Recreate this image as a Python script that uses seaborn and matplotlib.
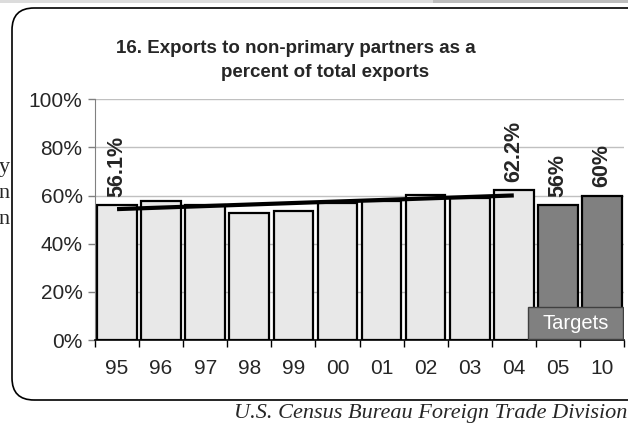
import numpy as np
import pandas as pd
import seaborn as sns
import matplotlib.pyplot as plt
import matplotlib.patches as mpatches

# %% Datos.
anios = ['95', '96', '97', '98', '99', '00', '01', '02', '03', '04', '05', '10']
valores = [56.1, 57.6, 56.0, 52.6, 53.7, 57.0, 57.9, 60.2, 58.9, 62.2, 56.0, 60.0]
tipo = ['hist'] * 10 + ['meta'] * 2
etiquetas = {0: '56.1%', 9: '62.2%', 10: '56%', 11: '60%'}

df = pd.DataFrame({'anio': anios, 'valor': valores, 'tipo': tipo})

sns.set_style('white')
plt.rcParams['font.family'] = ['Liberation Sans', 'DejaVu Sans']

W, H = 628, 425
fig = plt.figure(figsize=(W / 100, H / 100), dpi=100)
ax = fig.add_axes([95 / W, 1 - 340 / H, (624 - 95) / W, (340 - 99.3) / H])

sns.barplot(data=df, x='anio', y='valor', hue='tipo', dodge=False, legend=False,
            palette={'hist': '#e8e8e8', 'meta': '#808080'}, width=0.9,
            edgecolor='black', linewidth=1.6, saturation=1, ax=ax, zorder=2)

# Línea de tendencia sobre los datos históricos.
x_hist = np.arange(10)
coef = np.polyfit(x_hist, valores[:10], 1)
ax.plot(x_hist, np.polyval(coef, x_hist), color='black', lw=3, zorder=3,
        solid_capstyle='butt')

for i, txt in etiquetas.items():
    ax.annotate(txt, (i, valores[i]), xytext=(0, 6), textcoords='offset points',
                rotation=90, ha='center', va='bottom', fontsize=15.5,
                fontweight='bold', zorder=4)

ax.set_ylim(0, 100)
ax.set_xlim(-0.5, 11.5)
ax.set_yticks(range(0, 101, 20))
ax.set_yticklabels([f'{v}%' for v in range(0, 101, 20)], fontsize=15)
ax.set_xticks(range(12))
ax.set_xticklabels(anios, fontsize=15)
ax.set_xlabel('')
ax.set_ylabel('')
ax.yaxis.grid(True, color='#c0c0c0', lw=1, zorder=0)
ax.set_axisbelow(True)
for s in ['top', 'right']:
    ax.spines[s].set_visible(False)
ax.spines['left'].set_color('#808080')
ax.spines['bottom'].set_color('black')
ax.spines['bottom'].set_linewidth(1.2)
ax.tick_params(axis='y', left=True, length=5, width=1, color='#808080', pad=4)
ax.tick_params(axis='x', bottom=False, pad=10)
# Marcas entre categorías en el eje x.
ax.set_xticks(np.arange(-0.5, 12, 1), minor=True)
ax.tick_params(axis='x', which='minor', bottom=True, length=5, width=1, color='black')

# Caja "Targets".
ax.add_patch(mpatches.Rectangle((9.32, 0.4), 2.15, 13.3, fc='#808080', ec='#404040',
                                lw=1, zorder=5))
ax.text(10.4, 7, 'Targets', ha='center', va='center', color='white', fontsize=14.5,
        zorder=6)

# Título.
fig.text(296 / W, 1 - 53 / H, '16. Exports to non-primary partners as a',
         ha='center', va='baseline', fontsize=13.5, fontweight='bold')
fig.text(325 / W, 1 - 77 / H, 'percent of total exports',
         ha='center', va='baseline', fontsize=13.5, fontweight='bold')

# Marco redondeado y franja superior.
marco = mpatches.FancyBboxPatch((12, H - 400), 640, 392,
                                boxstyle='round,pad=0,rounding_size=22',
                                fc='none', ec='black', lw=1.2, transform=None)
fig.add_artist(marco)
fig.add_artist(mpatches.Rectangle((0, H - 3), 433, 3, fc='#dcdcdc', ec='none', transform=None))
fig.add_artist(mpatches.Rectangle((433, H - 3), W - 433, 3, fc='#bdbdbd', ec='none', transform=None))

# Texto de la página vecina y fuente.
for letra, y in [('y', 172), ('n', 198), ('n', 224)]:
    fig.text(10 / W, 1 - y / H, letra, ha='right', va='baseline', fontsize=16,
             family=['Liberation Serif', 'DejaVu Serif'])
fig.text(627 / W, 1 - 418 / H, 'U.S. Census Bureau Foreign Trade Division', ha='right',
         va='baseline', fontsize=16, style='italic',
         family=['Liberation Serif', 'DejaVu Serif'])

fig.savefig('out.png', dpi=100)
